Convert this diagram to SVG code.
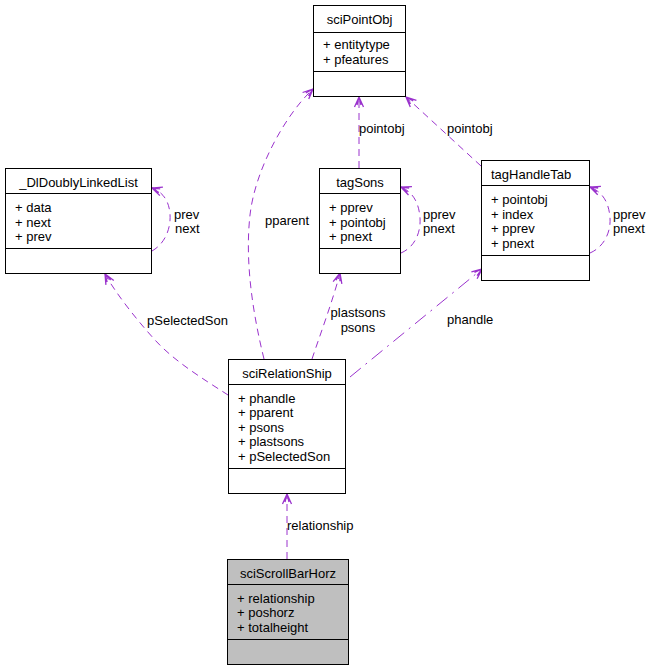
<svg xmlns="http://www.w3.org/2000/svg" width="651" height="669" viewBox="0 0 651 669">
<defs>
<style>
.box{fill:#ffffff;stroke:#000000;stroke-width:1}
.grey{fill:#bfbfbf}
.sep{stroke:#000000;stroke-width:1}
text{font-family:"Liberation Sans",Arial,Helvetica,sans-serif;font-size:13px;fill:#000000}
.c{text-anchor:middle}
.e{fill:none;stroke:#9a32cd;stroke-width:1;stroke-dasharray:7,5;marker-end:url(#vee)}
.dd{stroke-dasharray:14,6,2,6}
</style>
<marker id="vee" markerUnits="userSpaceOnUse" markerWidth="14" markerHeight="12" refX="11" refY="6" orient="auto">
<path d="M1,1.5 L11,6 L1,10.5 M3,4 L11,6 L3,8" fill="none" stroke="#9a32cd" stroke-width="1.3"/>
</marker>
</defs>
<rect width="651" height="669" fill="#ffffff"/>

<g id="edges">
<path class="e" d="M264,359 C252,310 245,260 250,215 C255,170 285,115 313,89"/>
<path class="e" d="M359,168 L359,97"/>
<path class="e" d="M481,166 L406,97"/>
<path class="e" d="M152,251 C166,243 171,227 170,214 C169,201 163,192 152,188"/>
<path class="e" d="M401,253 C415,247 421,232 420,218 C419,203 413,192 401,187"/>
<path class="e" d="M590,253 C604,247 611,232 610,218 C609,203 603,192 590,187"/>
<path class="e" d="M228,395 C205,380 175,362 155,340 C135,318 115,292 105,274"/>
<path class="e" d="M312,359 C320,335 333,300 340,273"/>
<path class="e dd" d="M350,377 L482,269"/>
<path class="e" d="M287,559 L287,494"/>
<text x="265" y="225">pparent</text>
<text x="359" y="133">pointobj</text>
<text x="447" y="133">pointobj</text>
<text x="174" y="219">prev</text>
<text x="175" y="233">next</text>
<text x="423" y="219">pprev</text>
<text x="423" y="233">pnext</text>
<text x="613" y="219">pprev</text>
<text x="613" y="233">pnext</text>
<text x="147" y="325">pSelectedSon</text>
<text class="c" x="358" y="317">plastsons</text>
<text class="c" x="358" y="332">psons</text>
<text x="447" y="324">phandle</text>
<text x="287" y="530">relationship</text>
</g>

<g id="sciPointObj">
<rect class="box" x="313.5" y="5.5" width="92" height="91"/>
<line class="sep" x1="313.5" y1="32.5" x2="405.5" y2="32.5"/>
<line class="sep" x1="313.5" y1="71.5" x2="405.5" y2="71.5"/>
<text class="c" x="359.5" y="24">sciPointObj</text>
<text x="323" y="49">+ entitytype</text>
<text x="323" y="64">+ pfeatures</text>
</g>

<g id="DlDoublyLinkedList">
<rect class="box" x="5.5" y="168.5" width="146" height="105"/>
<line class="sep" x1="5.5" y1="193.5" x2="151.5" y2="193.5"/>
<line class="sep" x1="5.5" y1="248.5" x2="151.5" y2="248.5"/>
<text class="c" x="78.5" y="187">_DlDoublyLinkedList</text>
<text x="15" y="212">+ data</text>
<text x="15" y="227">+ next</text>
<text x="15" y="241">+ prev</text>
</g>

<g id="tagSons">
<rect class="box" x="319.5" y="168.5" width="81" height="105"/>
<line class="sep" x1="319.5" y1="193.5" x2="400.5" y2="193.5"/>
<line class="sep" x1="319.5" y1="248.5" x2="400.5" y2="248.5"/>
<text class="c" x="360" y="187">tagSons</text>
<text x="329" y="212">+ pprev</text>
<text x="329" y="227">+ pointobj</text>
<text x="329" y="241">+ pnext</text>
</g>

<g id="tagHandleTab">
<rect class="box" x="481.5" y="160.5" width="108" height="120"/>
<line class="sep" x1="481.5" y1="185.5" x2="589.5" y2="185.5"/>
<line class="sep" x1="481.5" y1="255.5" x2="589.5" y2="255.5"/>
<text x="491" y="179">tagHandleTab</text>
<text x="491" y="204">+ pointobj</text>
<text x="491" y="219">+ index</text>
<text x="491" y="233">+ pprev</text>
<text x="491" y="248">+ pnext</text>
</g>

<g id="sciRelationShip">
<rect class="box" x="228.5" y="359.5" width="117" height="134"/>
<line class="sep" x1="228.5" y1="384.5" x2="345.5" y2="384.5"/>
<line class="sep" x1="228.5" y1="468.5" x2="345.5" y2="468.5"/>
<text class="c" x="287" y="378">sciRelationShip</text>
<text x="238" y="403">+ phandle</text>
<text x="238" y="417">+ pparent</text>
<text x="238" y="432">+ psons</text>
<text x="238" y="446">+ plastsons</text>
<text x="238" y="461">+ pSelectedSon</text>
</g>

<g id="sciScrollBarHorz">
<rect class="box grey" x="227.5" y="559.5" width="121" height="105"/>
<line class="sep" x1="227.5" y1="584.5" x2="348.5" y2="584.5"/>
<line class="sep" x1="227.5" y1="639.5" x2="348.5" y2="639.5"/>
<text class="c" x="288" y="578">sciScrollBarHorz</text>
<text x="237" y="603">+ relationship</text>
<text x="237" y="617">+ poshorz</text>
<text x="237" y="632">+ totalheight</text>
</g>
</svg>
